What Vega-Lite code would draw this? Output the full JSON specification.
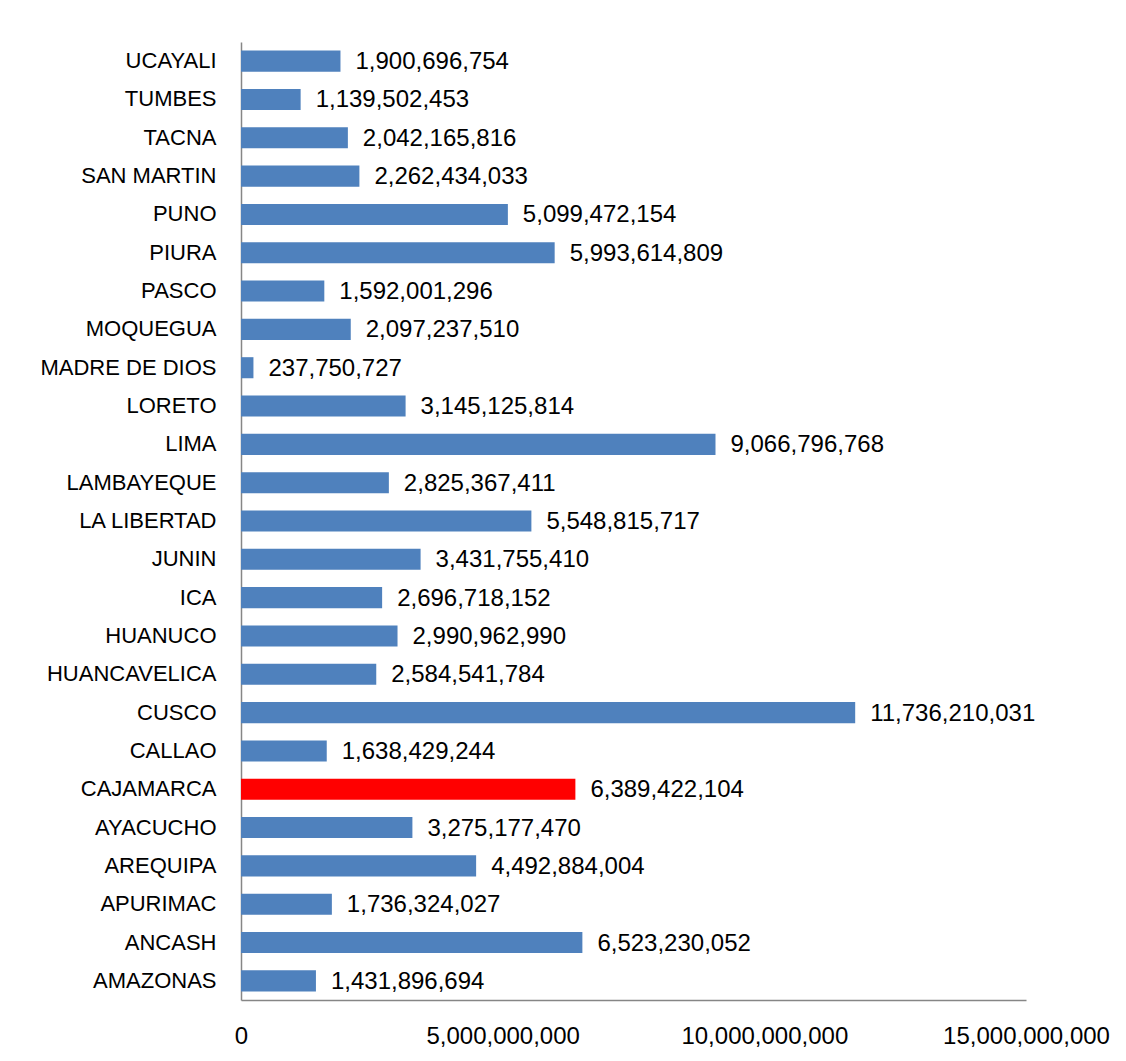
{
  "$schema": "https://vega.github.io/schema/vega-lite/v6.json",
  "autosize": {"type": "none"},
  "width": 785,
  "height": 958,
  "padding": {"left": 241, "top": 42, "right": 100, "bottom": 61},
  "background": "white",
  "config": {
    "view": {"stroke": null},
    "font": "Liberation Sans",
    "axis": {"labelFont": "Liberation Sans", "labelFontSize": 22, "labelColor": "#000000", "domainColor": "#868686", "domainWidth": 1.5, "ticks": false, "grid": false, "title": null}
  },
  "data": {
    "values": [
      {"region": "AMAZONAS", "value": 1431896694},
      {"region": "ANCASH", "value": 6523230052},
      {"region": "APURIMAC", "value": 1736324027},
      {"region": "AREQUIPA", "value": 4492884004},
      {"region": "AYACUCHO", "value": 3275177470},
      {"region": "CAJAMARCA", "value": 6389422104},
      {"region": "CALLAO", "value": 1638429244},
      {"region": "CUSCO", "value": 11736210031},
      {"region": "HUANCAVELICA", "value": 2584541784},
      {"region": "HUANUCO", "value": 2990962990},
      {"region": "ICA", "value": 2696718152},
      {"region": "JUNIN", "value": 3431755410},
      {"region": "LA LIBERTAD", "value": 5548815717},
      {"region": "LAMBAYEQUE", "value": 2825367411},
      {"region": "LIMA", "value": 9066796768},
      {"region": "LORETO", "value": 3145125814},
      {"region": "MADRE DE DIOS", "value": 237750727},
      {"region": "MOQUEGUA", "value": 2097237510},
      {"region": "PASCO", "value": 1592001296},
      {"region": "PIURA", "value": 5993614809},
      {"region": "PUNO", "value": 5099472154},
      {"region": "SAN MARTIN", "value": 2262434033},
      {"region": "TACNA", "value": 2042165816},
      {"region": "TUMBES", "value": 1139502453},
      {"region": "UCAYALI", "value": 1900696754}
    ]
  },
  "encoding": {
    "y": {
      "field": "region", "type": "nominal", "sort": "descending",
      "scale": {"paddingInner": 0.45, "paddingOuter": 0.225},
      "axis": {"labelPadding": 25, "domain": true}
    },
    "x": {
      "field": "value", "type": "quantitative",
      "scale": {"domain": [0, 15000000000], "nice": false},
      "axis": {"values": [0, 5000000000, 10000000000, 15000000000], "format": ",d", "labelPadding": 24, "labelFontSize": 24, "labelFlush": false}
    }
  },
  "layer": [
    {
      "mark": {"type": "bar"},
      "encoding": {
        "color": {
          "condition": {"test": "datum.region === 'CAJAMARCA'", "value": "#FF0000"},
          "value": "#4F81BD"
        }
      }
    },
    {
      "mark": {"type": "text", "align": "left", "baseline": "middle", "dx": 15, "dy": 1, "fontSize": 24, "color": "#000000"},
      "encoding": {
        "text": {"field": "value", "type": "quantitative", "format": ",d"}
      }
    }
  ]
}
